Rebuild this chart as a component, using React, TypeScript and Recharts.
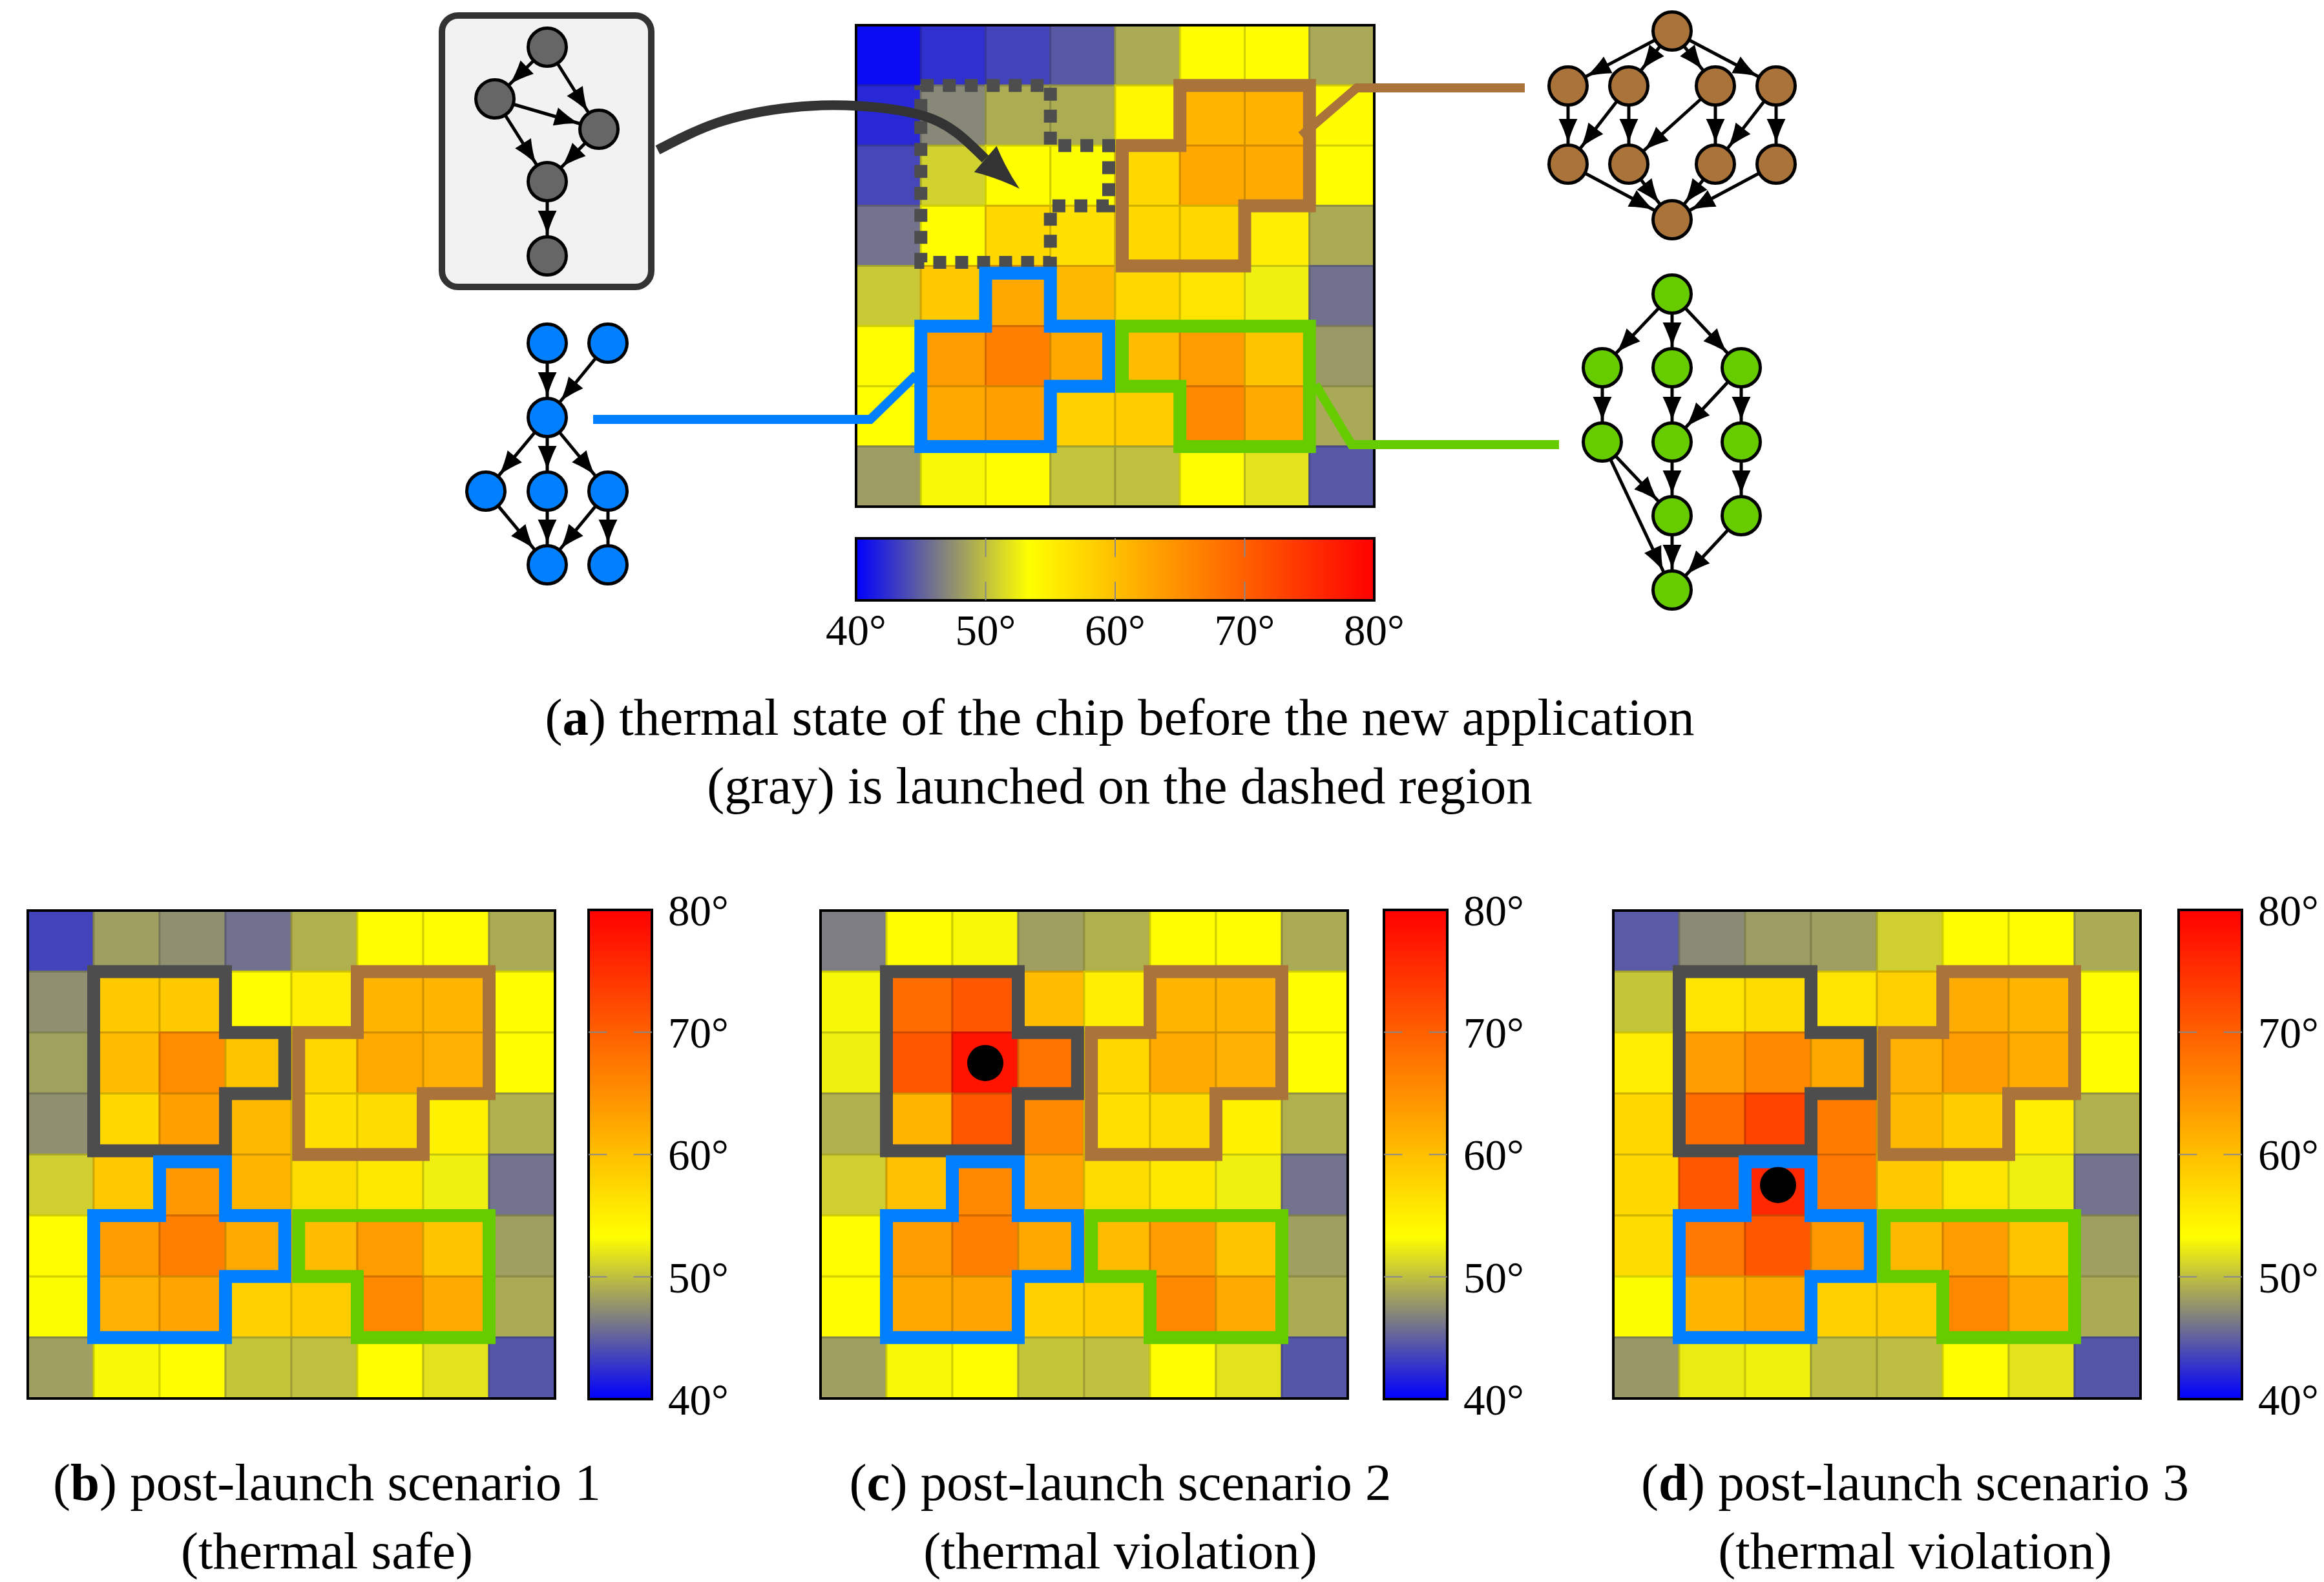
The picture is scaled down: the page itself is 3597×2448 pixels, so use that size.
import React from 'react'
import { ScatterChart, Scatter, XAxis, YAxis, ReferenceArea } from 'recharts'

const PAGE_W = 3597
const PAGE_H = 2448
const TOP_H = 1000
const SERIF = 'Liberation Serif'

// temperature colour scale (°C)
const TEMP_TICKS = [40, 50, 60, 70, 80]
const INNER_TICKS = [50, 60, 70]
const SCALE_TEMPS = [40, 46.67, 53.33, 80]
const SCALE_RGB = [
  [0, 0, 255],
  [128, 128, 128],
  [255, 255, 0],
  [255, 0, 0],
]

// core temperatures, row 0 = top row of the chip
const TEMPS_A = [
  [40.6, 42.5, 43.5, 44.6, 48.9, 53.5, 53.5, 48.8],
  [42.1, 47.1, 49.0, 49.0, 54.2, 61.2, 61.4, 53.8],
  [43.7, 50.9, 53.5, 53.2, 57.4, 62.4, 62.2, 53.5],
  [46.0, 53.5, 57.4, 56.6, 57.4, 57.4, 55.1, 48.9],
  [50.5, 59.0, 62.4, 60.8, 57.4, 56.2, 52.5, 45.9],
  [53.5, 63.7, 66.6, 62.4, 60.3, 63.7, 59.5, 48.0],
  [53.4, 62.4, 63.3, 58.2, 58.7, 65.8, 62.2, 48.8],
  [48.2, 53.0, 53.5, 50.2, 50.0, 53.5, 51.8, 44.6],
]
const TEMPS_B = [
  [43.5, 48.3, 47.5, 45.9, 49.2, 53.5, 53.5, 48.9],
  [47.5, 59.0, 59.0, 53.5, 55.1, 61.2, 61.2, 53.5],
  [48.4, 60.3, 65.3, 59.5, 57.4, 62.2, 61.6, 53.5],
  [47.5, 57.4, 63.3, 60.8, 56.6, 57.0, 54.8, 49.2],
  [50.8, 59.0, 64.1, 61.2, 57.0, 55.7, 52.5, 46.0],
  [53.5, 63.7, 66.6, 62.2, 60.3, 63.7, 59.5, 48.3],
  [53.2, 61.6, 62.8, 58.2, 58.7, 65.8, 62.2, 48.9],
  [48.3, 53.0, 53.5, 50.3, 50.0, 53.5, 51.8, 44.5],
]
const TEMPS_C = [
  [46.5, 53.5, 53.0, 48.3, 49.2, 53.5, 53.5, 48.9],
  [52.9, 68.7, 70.8, 60.3, 55.1, 61.2, 61.2, 53.5],
  [52.5, 70.8, 77.9, 67.9, 57.4, 62.2, 61.6, 53.5],
  [49.2, 61.2, 70.8, 65.8, 56.6, 57.0, 54.8, 49.2],
  [50.8, 59.9, 65.8, 62.8, 57.0, 55.7, 52.5, 46.0],
  [53.5, 63.7, 66.6, 62.4, 60.3, 63.7, 59.5, 48.3],
  [53.5, 62.4, 62.8, 58.2, 58.7, 65.8, 62.2, 48.9],
  [48.3, 53.0, 53.5, 50.3, 50.0, 53.5, 51.8, 44.5],
]
const TEMPS_D = [
  [44.7, 47.2, 48.2, 48.3, 50.8, 53.5, 53.5, 48.9],
  [50.3, 56.2, 57.0, 56.2, 58.2, 62.0, 61.2, 53.5],
  [55.1, 63.7, 65.8, 62.4, 61.6, 63.7, 62.0, 53.5],
  [57.4, 68.7, 72.9, 67.0, 60.8, 58.7, 55.1, 49.2],
  [57.4, 70.8, 75.8, 67.4, 59.0, 56.2, 52.5, 46.0],
  [57.0, 67.4, 70.8, 64.1, 60.8, 63.7, 59.5, 48.3],
  [53.2, 61.2, 62.4, 58.2, 58.7, 65.8, 62.2, 48.9],
  [47.9, 52.3, 52.6, 49.9, 49.9, 53.5, 51.8, 44.5],
]

// mapped regions, vertices in cell units (x = column, y = row)
const REGION_GRAY = [[1, 1], [3, 1], [3, 2], [3.9, 2], [3.9, 3], [3, 3], [3, 3.94], [1, 3.94], [1, 1]]
const REGION_BROWN = [[5, 1], [7, 1], [7, 3], [6, 3], [6, 4], [4.11, 4], [4.11, 2], [5, 2], [5, 1]]
const REGION_BLUE = [[2, 4.12], [3, 4.12], [3, 5], [3.9, 5], [3.9, 6], [3, 6], [3, 7], [1, 7], [1, 5], [2, 5], [2, 4.12]]
const REGION_GREEN = [[4.11, 5], [7, 5], [7, 7], [5, 7], [5, 6], [4.11, 6], [4.11, 5]]
const FRAME = [[0, 0], [8, 0], [8, 8], [0, 8], [0, 0]]
const HOTSPOT_C = { x: 2.5, y: 2.5 }
const HOTSPOT_D = { x: 2.5, y: 4.5 }

// task graphs (page pixels)
const GRAY_NODES = [[847, 73], [766, 153], [927, 200], [847, 281], [847, 396]]
const GRAY_EDGES = [[0, 1], [0, 2], [1, 2], [1, 3], [2, 3], [3, 4]]
const BLUE_NODES = [[847, 531], [941, 531], [847, 646], [752, 760], [847, 760], [941, 760], [847, 874], [941, 874]]
const BLUE_EDGES = [[0, 2], [1, 2], [2, 3], [2, 4], [2, 5], [3, 6], [4, 6], [5, 6], [5, 7]]
const BROWN_NODES = [[2588, 48], [2427, 133], [2521, 133], [2655, 133], [2749, 133], [2427, 254], [2521, 254], [2655, 254], [2749, 254], [2588, 340]]
const BROWN_EDGES = [[0, 1], [0, 2], [0, 3], [0, 4], [1, 5], [2, 5], [2, 6], [3, 6], [3, 7], [4, 7], [4, 8], [5, 9], [6, 9], [7, 9], [8, 9]]
const GREEN_NODES = [[2588, 455], [2480, 569], [2588, 569], [2695, 569], [2480, 684], [2588, 684], [2695, 684], [2588, 798], [2695, 798], [2588, 913]]
const GREEN_EDGES = [[0, 1], [0, 2], [0, 3], [1, 4], [2, 5], [3, 5], [3, 6], [4, 7], [4, 9], [5, 7], [6, 8], [7, 9], [8, 9]]

const BLUE_LINK = [[918, 649], [1347, 649], [1418, 580]]
const BROWN_LINK = [[2014, 210], [2100, 136], [2360, 136]]
const GREEN_LINK = [[2036, 595], [2092, 688], [2413, 688]]
const LAUNCH_PATH = [[1018, 232], [1110, 190], [1210, 168], [1310, 163], [1417, 176], [1480, 205], [1525, 246]]
const LAUNCH_TIP = [1578, 292]

const C_GRAY = '#4d4d4d'
const C_BROWN = '#aa7339'
const C_BLUE = '#0080ff'
const C_GREEN = '#66cc00'
const NODE_R = 32

const BOX_A = { left: 1325, top: 39, width: 802, height: 745 }
const BOX_B = { left: 43, top: 1409, width: 816, height: 755 }
const BOX_C = { left: 1270, top: 1409, width: 816, height: 755 }
const BOX_D = { left: 2497, top: 1409, width: 816, height: 755 }

function tempRgb(t: number) {
  const s = SCALE_TEMPS
  if (t <= s[0]) return SCALE_RGB[0]
  for (let i = 1; i < s.length; i++) {
    if (t <= s[i]) {
      const f = (t - s[i - 1]) / (s[i] - s[i - 1])
      return SCALE_RGB[i].map((c, k) => SCALE_RGB[i - 1][k] + f * (c - SCALE_RGB[i - 1][k]))
    }
  }
  return SCALE_RGB[SCALE_RGB.length - 1]
}
const rgb = (c: number[], k = 1) => `rgb(${c.map((v) => Math.round(v * k)).join(',')})`
const deg = (v: number) => `${v}°`

const None = () => <g />

function lineSeries(key: string, pts: number[][], stroke: string, width: number, extra: any = {}) {
  return (
    <Scatter
      key={key}
      data={pts.map(([x, y]) => ({ x, y }))}
      line={{ stroke, strokeWidth: width, strokeLinejoin: 'miter', strokeLinecap: 'square', ...extra }}
      lineType="joint"
      shape={None}
      isAnimationActive={false}
      legendType="none"
    />
  )
}

const headPath = (len: number, wid: number) =>
  `M0,0 Q${-len * 0.5},${-wid * 0.17} ${-len},${-wid / 2} L${-len},${wid / 2} Q${-len * 0.5},${wid * 0.17} 0,0 Z`

function graphSeries(key: string, nodes: number[][], edges: number[][], color: string) {
  const heads = edges.map(([a, b]) => ({
    x: nodes[b][0],
    y: nodes[b][1],
    dx: nodes[b][0] - nodes[a][0],
    dy: nodes[b][1] - nodes[a][1],
  }))
  const EdgeHead = (p: any) => {
    const a = Math.atan2(p.payload.dy, p.payload.dx)
    const tx = p.cx - Math.cos(a) * NODE_R
    const ty = p.cy - Math.sin(a) * NODE_R
    return <path d={headPath(38, 29)} transform={`translate(${tx} ${ty}) rotate(${(a * 180) / Math.PI})`} fill="#000" />
  }
  const Node = (p: any) => <circle cx={p.cx} cy={p.cy} r={NODE_R - 2.5} fill={color} stroke="#000" strokeWidth={5} />
  return [
    ...edges.map(([a, b], i) =>
      lineSeries(`${key}-e${i}`, [nodes[a], nodes[b]], '#000', 5, { strokeLinecap: 'butt' })
    ),
    <Scatter key={`${key}-heads`} data={heads} shape={EdgeHead} isAnimationActive={false} legendType="none" />,
    <Scatter
      key={`${key}-nodes`}
      data={nodes.map(([x, y]) => ({ x, y }))}
      shape={Node}
      isAnimationActive={false}
      legendType="none"
    />,
  ]
}

function HeatMap({ box, temps, dashed, hotspot }: any) {
  const pad = 16
  const cw = box.width / 8
  const ch = box.height / 8
  const cells = temps.flatMap((row: number[], r: number) => row.map((t, c) => ({ x: c + 0.5, y: r + 0.5, t })))
  const Cell = (p: any) => {
    const c = tempRgb(p.payload.t)
    return (
      <rect x={p.cx - cw / 2} y={p.cy - ch / 2} width={cw} height={ch} fill={rgb(c)} stroke={rgb(c, 0.82)} strokeWidth={3} />
    )
  }
  const Dot = (p: any) => <circle cx={p.cx} cy={p.cy} r={28} fill="#000" />
  return (
    <div style={{ position: 'absolute', left: box.left - pad, top: box.top - pad }}>
      <ScatterChart
        width={box.width + 2 * pad}
        height={box.height + 2 * pad}
        margin={{ top: pad, right: pad, bottom: pad, left: pad }}
      >
        <XAxis type="number" dataKey="x" domain={[0, 8]} hide />
        <YAxis type="number" dataKey="y" domain={[0, 8]} reversed hide />
        <Scatter data={cells} shape={Cell} isAnimationActive={false} legendType="none" />
        {lineSeries(
          'gray',
          REGION_GRAY,
          C_GRAY,
          20,
          dashed ? { strokeDasharray: '20 14', strokeLinecap: 'butt' } : {}
        )}
        {lineSeries('brown', REGION_BROWN, C_BROWN, 20)}
        {lineSeries('blue', REGION_BLUE, C_BLUE, 20)}
        {lineSeries('green', REGION_GREEN, C_GREEN, 20)}
        {lineSeries('frame', FRAME, '#000', 4)}
        {hotspot && <Scatter data={[hotspot]} shape={Dot} isAnimationActive={false} legendType="none" />}
      </ScatterChart>
    </div>
  )
}

function gradientStops() {
  return SCALE_TEMPS.map((t, i) => (
    <stop key={i} offset={(t - 40) / 40} stopColor={rgb(SCALE_RGB[i])} />
  ))
}

const tickStyle = { fontFamily: SERIF, fontSize: 67, fill: '#000' }

function ColorBarH({ box }: any) {
  const padX = 70
  const padT = 10
  const axisH = 110
  const Marks = (p: any) => {
    const h = box.height
    return (
      <g stroke="#888" strokeWidth={2}>
        <line x1={p.cx} x2={p.cx} y1={p.cy - h / 2} y2={p.cy - h / 2 + 0.3 * h} />
        <line x1={p.cx} x2={p.cx} y1={p.cy + h / 2} y2={p.cy + h / 2 - 0.3 * h} />
      </g>
    )
  }
  return (
    <div style={{ position: 'absolute', left: box.left - padX, top: box.top - padT }}>
      <ScatterChart
        width={box.width + 2 * padX}
        height={padT + box.height + axisH}
        margin={{ top: padT, right: padX, bottom: 0, left: padX }}
      >
        <defs>
          <linearGradient id="barH" x1="0" y1="0" x2="1" y2="0">
            {gradientStops()}
          </linearGradient>
        </defs>
        <XAxis
          type="number"
          dataKey="x"
          domain={[40, 80]}
          ticks={TEMP_TICKS}
          interval={0}
          tickFormatter={deg}
          axisLine={false}
          tickLine={false}
          tickSize={0}
          tickMargin={21}
          height={axisH}
          tick={tickStyle}
        />
        <YAxis type="number" dataKey="y" domain={[0, 1]} hide />
        <ReferenceArea x1={40} x2={80} y1={0} y2={1} fill="url(#barH)" fillOpacity={1} stroke="#000" strokeWidth={4} />
        <Scatter data={INNER_TICKS.map((t) => ({ x: t, y: 0.5 }))} shape={Marks} isAnimationActive={false} legendType="none" />
      </ScatterChart>
    </div>
  )
}

function ColorBarV({ box, id }: any) {
  const padL = 10
  const padT = 45
  const axisW = 160
  const Marks = (p: any) => {
    const w = box.width
    return (
      <g stroke="#888" strokeWidth={2}>
        <line y1={p.cy} y2={p.cy} x1={p.cx - w / 2} x2={p.cx - w / 2 + 0.29 * w} />
        <line y1={p.cy} y2={p.cy} x1={p.cx + w / 2} x2={p.cx + w / 2 - 0.29 * w} />
      </g>
    )
  }
  return (
    <div style={{ position: 'absolute', left: box.left - padL, top: box.top - padT }}>
      <ScatterChart
        width={padL + box.width + axisW}
        height={box.height + 2 * padT}
        margin={{ top: padT, right: 0, bottom: padT, left: padL }}
      >
        <defs>
          <linearGradient id={id} x1="0" y1="1" x2="0" y2="0">
            {gradientStops()}
          </linearGradient>
        </defs>
        <XAxis type="number" dataKey="x" domain={[0, 1]} hide />
        <YAxis
          type="number"
          dataKey="y"
          orientation="right"
          domain={[40, 80]}
          ticks={TEMP_TICKS}
          interval={0}
          tickFormatter={deg}
          axisLine={false}
          tickLine={false}
          tickSize={0}
          tickMargin={25}
          width={axisW}
          tick={{ ...tickStyle, textAnchor: 'start' }}
        />
        <ReferenceArea x1={0} x2={1} y1={40} y2={80} fill={`url(#${id})`} fillOpacity={1} stroke="#000" strokeWidth={4} />
        <Scatter data={INNER_TICKS.map((t) => ({ x: 0.5, y: t }))} shape={Marks} isAnimationActive={false} legendType="none" />
      </ScatterChart>
    </div>
  )
}

function Overlay() {
  const dx = LAUNCH_TIP[0] - LAUNCH_PATH[LAUNCH_PATH.length - 1][0]
  const dy = LAUNCH_TIP[1] - LAUNCH_PATH[LAUNCH_PATH.length - 1][1]
  const LaunchHead = (p: any) => (
    <path
      d={headPath(70, 53)}
      transform={`translate(${p.cx} ${p.cy}) rotate(${(Math.atan2(dy, dx) * 180) / Math.PI})`}
      fill="#333"
    />
  )
  return (
    <div style={{ position: 'absolute', left: 0, top: 0 }}>
      <ScatterChart width={PAGE_W} height={TOP_H} margin={{ top: 0, right: 0, bottom: 0, left: 0 }}>
        <XAxis type="number" dataKey="x" domain={[0, PAGE_W]} hide />
        <YAxis type="number" dataKey="y" domain={[0, TOP_H]} reversed hide />
        {lineSeries('link-blue', BLUE_LINK, C_BLUE, 14, { strokeLinecap: 'butt' })}
        {lineSeries('link-brown', BROWN_LINK, C_BROWN, 14, { strokeLinecap: 'butt' })}
        {lineSeries('link-green', GREEN_LINK, C_GREEN, 14, { strokeLinecap: 'butt' })}
        <Scatter
          data={LAUNCH_PATH.map(([x, y]) => ({ x, y }))}
          line={{ stroke: '#333', strokeWidth: 15, strokeLinecap: 'butt' }}
          lineType="joint"
          lineJointType="natural"
          shape={None}
          isAnimationActive={false}
          legendType="none"
        />
        <Scatter data={[{ x: LAUNCH_TIP[0], y: LAUNCH_TIP[1] }]} shape={LaunchHead} isAnimationActive={false} legendType="none" />
        {graphSeries('gray', GRAY_NODES, GRAY_EDGES, '#666666')}
        {graphSeries('blue', BLUE_NODES, BLUE_EDGES, C_BLUE)}
        {graphSeries('brown', BROWN_NODES, BROWN_EDGES, C_BROWN)}
        {graphSeries('green', GREEN_NODES, GREEN_EDGES, C_GREEN)}
      </ScatterChart>
    </div>
  )
}

function Caption({ cx, top, tag, lines }: any) {
  return (
    <div
      style={{
        position: 'absolute',
        left: cx - 1000,
        top,
        width: 2000,
        textAlign: 'center',
        fontFamily: SERIF,
        fontSize: 81,
        lineHeight: '106px',
        color: '#000',
      }}
    >
      <div>
        (<b>{tag}</b>) {lines[0]}
      </div>
      <div>{lines[1]}</div>
    </div>
  )
}

export default function App() {
  return (
    <div style={{ position: 'relative', width: PAGE_W, height: PAGE_H, background: '#fff', overflow: 'hidden' }}>
      <style>{'body{margin:0}'}</style>
      <HeatMap box={BOX_A} temps={TEMPS_A} dashed />
      <div
        style={{
          position: 'absolute',
          left: 679,
          top: 19,
          width: 334,
          height: 430,
          boxSizing: 'border-box',
          border: '10px solid #333',
          borderRadius: 30,
          background: '#f2f2f2',
        }}
      />
      <Overlay />
      <ColorBarH box={{ left: 1325, top: 833, width: 802, height: 96 }} />
      <Caption
        cx={1733}
        top={1057}
        tag="a"
        lines={['thermal state of the chip before the new application', '(gray) is launched on the dashed region']}
      />

      <HeatMap box={BOX_B} temps={TEMPS_B} />
      <HeatMap box={BOX_C} temps={TEMPS_C} hotspot={HOTSPOT_C} />
      <HeatMap box={BOX_D} temps={TEMPS_D} hotspot={HOTSPOT_D} />
      <ColorBarV id="barB" box={{ left: 911, top: 1408, width: 98, height: 757 }} />
      <ColorBarV id="barC" box={{ left: 2142, top: 1408, width: 98, height: 757 }} />
      <ColorBarV id="barD" box={{ left: 3372, top: 1408, width: 98, height: 757 }} />
      <Caption cx={506} top={2241} tag="b" lines={['post-launch scenario 1', '(thermal safe)']} />
      <Caption cx={1734} top={2241} tag="c" lines={['post-launch scenario 2', '(thermal violation)']} />
      <Caption cx={2964} top={2241} tag="d" lines={['post-launch scenario 3', '(thermal violation)']} />
    </div>
  )
}
